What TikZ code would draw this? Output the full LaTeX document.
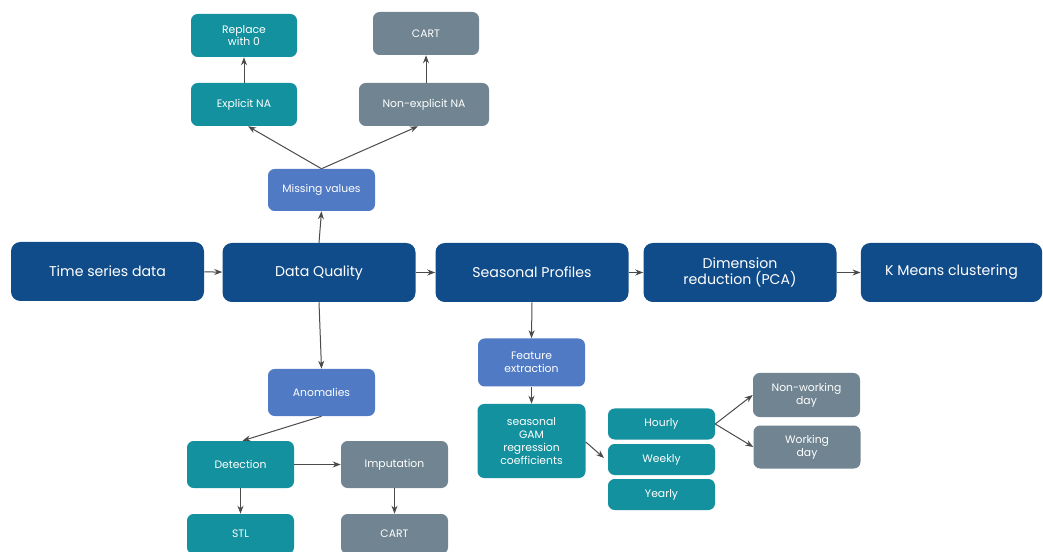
\documentclass[tikz,border=0pt]{standalone}
\usepackage{fontspec}
\setmainfont{Poppins}
\usetikzlibrary{arrows.meta,calc}
\definecolor{navy}{RGB}{17,76,138}
\definecolor{teal}{RGB}{20,145,158}
\definecolor{slate}{RGB}{112,133,145}
\definecolor{sky}{RGB}{80,122,196}
\definecolor{wire}{RGB}{75,75,75}
\begin{document}
\begin{tikzpicture}[x=0.75pt,y=-0.75pt,
  box/.style={rounded corners=5pt,text=white,align=center,inner sep=1pt,
    minimum width={#1*0.75pt}},
  big/.style={box=193,fill=navy,minimum height=44.25pt,rounded corners=7pt,
    font=\fontsize{10.6}{12.6}\selectfont},
  small/.style={box=#1,font=\fontsize{8.1}{9.6}\selectfont},
  tealbox/.style={small=#1,fill=teal},
  slatebox/.style={small=#1,fill=slate},
  skybox/.style={small=#1,fill=sky},
  ht/.style={minimum height={#1*0.75pt}},
  link/.style={draw=wire,line width=0.75pt,-{Stealth[length=6pt,width=4.5pt]}}]
\useasboundingbox (0,0) rectangle (1043,552);
\fill[white] (0,0) rectangle (1043,552);

% main pipeline
\node[big] (ts)  at (107.5,271.5) {Time series data};
\node[big] (dq)  at (319,272.5) {Data Quality};
\node[big] (sp)  at (532,272.5) {Seasonal Profiles};
\node[big] (dim) at (740,272.5) {Dimension\\reduction (PCA)};
\node[big,minimum width=136pt] (km) at (951.5,272.5) {K Means clustering};

% missing values branch
\node[skybox=107,ht=42] (miss) at (321.5,190) {Missing values};
\node[tealbox=106,ht=43] (expl) at (244,104.5) {Explicit NA};
\node[slatebox=130,ht=43] (nonexpl) at (424,104.5) {Non-explicit NA};
\node[tealbox=106,ht=43] (rep) at (244,35.5) {Replace\\with 0};
\node[slatebox=106,ht=43] (cartA) at (426,33.5) {CART};

% anomalies branch
\node[skybox=107,ht=47] (anom) at (321.5,392.5) {Anomalies};
\node[tealbox=107,ht=47] (det) at (240.5,464.5) {Detection};
\node[slatebox=107,ht=47] (imp) at (394.5,464.5) {Imputation};
\node[tealbox=107,ht=40] (stl) at (240.5,534) {STL};
\node[slatebox=107,ht=40] (cartB) at (394.5,534) {CART};

% seasonal features
\node[skybox=107,ht=48] (feat) at (531.5,362.5) {Feature\\extraction};
\node[tealbox=108,ht=74] (gam) at (531.5,441) {seasonal\\GAM\\regression\\coefficients};
\node[tealbox=107,ht=31] (hour) at (661.5,424) {Hourly};
\node[tealbox=107,ht=31] (week) at (661.5,459.5) {Weekly};
\node[tealbox=107,ht=31] (year) at (661.5,494.5) {Yearly};
\node[slatebox=107,ht=44] (nw) at (806.5,395) {Non-working\\day};
\node[slatebox=107,ht=43] (wd) at (807,447) {Working\\day};
\coordinate (split) at (604,458);

% connectors
\draw[link] (ts) -- (dq);
\draw[link] (dq) -- (sp);
\draw[link] (sp) -- (dim);
\draw[link] (dim) -- (km);
\draw[link] (dq.north) -- (miss.south);
\draw[link] (miss.north) -- ($(expl.south)+(4,0)$);
\draw[link] (miss.north) -- ($(nonexpl.south)+(-6,0)$);
\draw[link] (expl) -- (rep);
\draw[link] (nonexpl.north -| cartA) -- (cartA.south);
\draw[link] (dq.south) -- (anom.north);
\draw[link] (anom.south) -- ($(det.north)+(2,0)$);
\draw[link] (det) -- (imp);
\draw[link] (det) -- (stl);
\draw[link] (imp) -- (cartB);
\draw[link] (sp.south) -- (feat.north);
\draw[link] (feat) -- (gam);
\draw[link] ($(gam.east)+(0,1)$) -- (split);
\draw[link] (hour.east) -- (nw.west);
\draw[link] (hour.east) -- (wd.west);
\end{tikzpicture}
\end{document}
